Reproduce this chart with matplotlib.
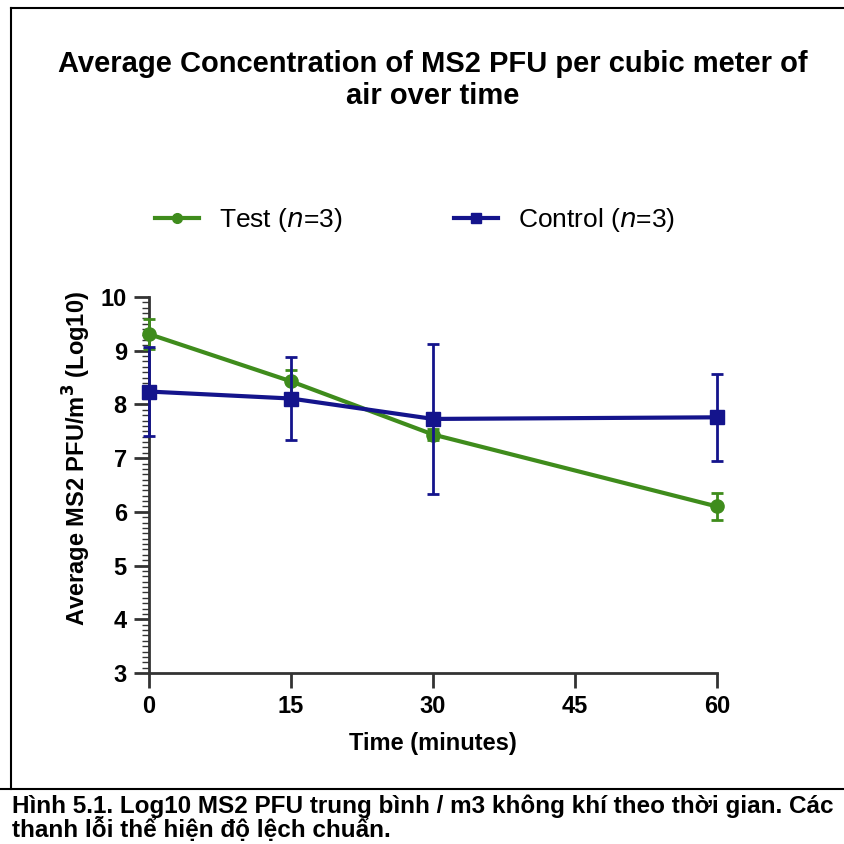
import matplotlib
matplotlib.use('Agg')
import matplotlib.pyplot as plt
from matplotlib.ticker import MultipleLocator
from matplotlib.lines import Line2D

# data
times = [0, 15, 30, 60]
test_mean = [9.31, 8.43, 7.44, 6.10]
test_sd = [0.28, 0.22, 0.10, 0.26]
ctrl_mean = [8.24, 8.11, 7.73, 7.76]
ctrl_sd = [0.83, 0.78, 1.39, 0.81]
xticks = [0, 15, 30, 45, 60]
yticks = [3, 4, 5, 6, 7, 8, 9, 10]

green = '#3f8c1c'
navy = '#14148c'
plain = ['Liberation Sans', 'DejaVu Sans']

fig = plt.figure(figsize=(8.45, 8.44), dpi=100)
ax = fig.add_axes([149 / 845, 1 - 673 / 844, (717 - 149) / 845, (673 - 297) / 844])

ax.errorbar(times, test_mean, yerr=test_sd, color=green, lw=3, marker='o', ms=9.5,
            capsize=4, elinewidth=2, capthick=2, clip_on=False, zorder=3)
ax.errorbar(times, ctrl_mean, yerr=ctrl_sd, color=navy, lw=3, marker='s', ms=9.5,
            capsize=4, elinewidth=2, capthick=2, clip_on=False, zorder=4)

ax.set_xlim(0, 60)
ax.set_ylim(3, 10)
ax.set_xticks(xticks)
ax.set_yticks(yticks)
ax.yaxis.set_minor_locator(MultipleLocator(0.1))
for s in ['top', 'right']:
    ax.spines[s].set_visible(False)
for s in ['left', 'bottom']:
    ax.spines[s].set_linewidth(2)
    ax.spines[s].set_color('#333333')
ax.tick_params(axis='both', which='major', length=11, width=2, color='#333333',
               labelsize=17, pad=5)
ax.tick_params(axis='y', which='minor', length=5, width=1, color='#333333')
for lab in ax.get_xticklabels() + ax.get_yticklabels():
    lab.set_family(plain)
    lab.set_fontweight('bold')

ax.set_xlabel('Time (minutes)', family=plain, fontweight='bold', fontsize=17, labelpad=10)
ax.set_ylabel(r'Average MS2 PFU/m$^\mathbf{3}$ (Log10)', family=plain,
              fontweight='bold', fontsize=17)
ax.yaxis.set_label_coords(-0.098, 0.57)

fig.text(433 / 845, 1 - 80 / 844, 'Average Concentration of MS2 PFU per cubic meter of\nair over time',
         ha='center', va='center', family=plain, fontweight='bold', fontsize=21,
         linespacing=1.2)

handles = [Line2D([], [], color=green, lw=3, marker='o', ms=7),
           Line2D([], [], color=navy, lw=3, marker='s', ms=7)]
fig.legend(handles, ['Test ($\\it{n}$=3)', 'Control ($\\it{n}$=3)'],
           loc='center', bbox_to_anchor=(415 / 845, 1 - 220 / 844), ncol=2,
           frameon=False, prop={'family': plain, 'size': 19}, handlelength=1.7,
           columnspacing=4.2, handletextpad=0.75)

# frame lines around the figure
fig.add_artist(Line2D([11 / 845, 1], [1 - 8 / 844, 1 - 8 / 844], color='black', lw=1.5))
fig.add_artist(Line2D([11 / 845, 11 / 845], [1 - 8 / 844, 1 - 789 / 844], color='black', lw=1.5))
fig.add_artist(Line2D([0, 1], [1 - 789 / 844, 1 - 789 / 844], color='black', lw=1.5))

fig.text(12 / 845, 1 - 818 / 844,
         'Hình 5.1. Log10 MS2 PFU trung bình / m3 không khí theo thời gian. Các\n'
         'thanh lỗi thể hiện độ lệch chuẩn.',
         ha='left', va='center', family=plain, fontweight='bold', fontsize=17.5,
         linespacing=0.97)

fig.savefig('out.png', dpi=100)
